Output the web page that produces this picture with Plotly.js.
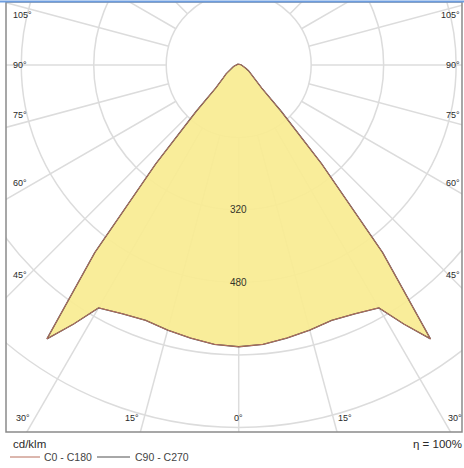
<!DOCTYPE html>
<html>
<head>
<meta charset="utf-8">
<script src="https://cdn.plot.ly/plotly-3.0.1.min.js"></script>
<style>
  html, body { margin: 0; padding: 0; background: #ffffff; }
  #chart { width: 464px; height: 468px; }
</style>
</head>
<body>
<div id="chart"></div>
<script>
// ---- data ----
// gamma angles (degrees from nadir) and luminous intensity in cd/klm
const gammaAngles = [0, 5, 10, 15, 20, 25, 30, 32.5, 35, 37.5, 40, 42.5, 45, 50, 55, 60, 65, 70, 75, 80, 85, 90, 105, 120, 135, 150, 165, 180];
const c0c180      = [622, 619, 612, 606, 600, 606, 619, 678, 738, 522, 285, 140, 72, 45, 34, 25, 18, 14, 11, 9, 7, 6, 4, 3, 2.5, 2, 2, 2];
const c90c270     = [622, 619, 612, 606, 600, 606, 619, 678, 738, 522, 285, 140, 72, 45, 34, 25, 18, 14, 11, 9, 7, 6, 4, 3, 2.5, 2, 2, 2];
const ringValues  = [160, 320, 480, 640, 800, 960];
const ringLabelValues = [320, 480];
const spokeAngles = [0, 15, 30, 45, 60, 75, 90, 105, 120, 135, 150, 165, 180];
const angleLabelValues = [0, 15, 30, 45, 60, 75, 90, 105];
const seriesNames = ['C0 - C180', 'C90 - C270'];
const seriesColors = ['#b86f5c', '#505050'];
const unitLabel = 'cd/klm';
const efficiencyLabel = 'η = 100%';

// ---- geometry / style ----
const W = 464, H = 468;
const M = {l: 6, r: 2, t: 2, b: 36};
const PW = W - M.l - M.r, PH = H - M.t - M.b;
const K = 0.453;            // pixels per cd/klm
const CX = 238.7, CY = 65;  // pole position in page pixels
const xRange = [-(CX - M.l) / K, (PW - (CX - M.l)) / K];
const yRange = [-(PH - (CY - M.t)) / K, (CY - M.t) / K];
const rad = d => d * Math.PI / 180;
const pxToX = px => (px - CX) / K;
const pxToY = py => (CY - py) / K;
const pxToPX = px => (px - M.l) / PW;          // page px -> paper x
const pxToPY = py => (M.t + PH - py) / PH;     // page px -> paper y
const FONT = 'Arial, "Liberation Sans", sans-serif';
const GRID = '#dcdcdc';
const TXT = '#2a2a2a';

// polar -> cartesian curve, closed over both halves of the plane
function curve(angles, vals) {
  const x = [], y = [];
  for (let i = 0; i < angles.length; i++) {
    x.push(vals[i] * Math.sin(rad(angles[i])));
    y.push(-vals[i] * Math.cos(rad(angles[i])));
  }
  for (let i = angles.length - 1; i >= 0; i--) {
    x.push(-vals[i] * Math.sin(rad(angles[i])));
    y.push(-vals[i] * Math.cos(rad(angles[i])));
  }
  return {x, y};
}

const cA = curve(gammaAngles, c0c180);
const cB = curve(gammaAngles, c90c270);

const traces = [
  {x: cA.x, y: cA.y, type: 'scatter', mode: 'lines', fill: 'toself',
   fillcolor: 'rgba(249,236,146,0.93)', line: {width: 0}, showlegend: false, hoverinfo: 'skip'},
  {x: cB.x, y: cB.y, type: 'scatter', mode: 'lines', name: seriesNames[1],
   line: {color: seriesColors[1], width: 1.3}, showlegend: false, hoverinfo: 'skip'},
  {x: cA.x, y: cA.y, type: 'scatter', mode: 'lines', name: seriesNames[0],
   line: {color: seriesColors[0], width: 1}, showlegend: false, hoverinfo: 'skip'}
];

const shapes = [];
ringValues.forEach(r => shapes.push({
  type: 'circle', xref: 'x', yref: 'y', x0: -r, x1: r, y0: -r, y1: r,
  line: {color: GRID, width: 1.5}, layer: 'below'
}));
const rIn = ringValues[0], rOut = 1400;
spokeAngles.forEach(a => {
  [1, -1].forEach(s => {
    if (s === -1 && (a === 0 || a === 180)) return;
    const sx = s * Math.sin(rad(a)), sy = -Math.cos(rad(a));
    shapes.push({type: 'line', xref: 'x', yref: 'y',
      x0: rIn * sx, y0: rIn * sy, x1: rOut * sx, y1: rOut * sy,
      line: {color: GRID, width: 1.5}, layer: 'below'});
  });
});
// frame
shapes.push({type: 'rect', xref: 'paper', yref: 'paper', x0: 0, x1: 1, y0: 0, y1: 1,
  line: {color: '#8a8a8a', width: 1.5}, layer: 'above'});
shapes.push({type: 'line', xref: 'paper', yref: 'paper', x0: -M.l / PW, x1: 1 + M.r / PW,
  y0: 1 + 0.5 / PH, y1: 1 + 0.5 / PH, line: {color: '#6d9de0', width: 2}, layer: 'above'});

const annotations = [];
// radial value labels on the nadir axis
ringLabelValues.forEach(v => annotations.push({
  x: 0, y: -v, xref: 'x', yref: 'y', text: String(v), showarrow: false,
  font: {family: FONT, size: 10, color: '#34342a'}, xanchor: 'center', yanchor: 'middle'
}));
// angle labels where spokes meet the frame
const insetL = 20, insetR = 457, insetB = 418;
angleLabelValues.forEach(a => {
  [-1, 1].forEach(s => {
    if (a === 0 && s === 1) return;
    const t = Math.tan(rad(a));
    const ySide = a === 90 ? CY : CY + (CX - insetL) / t; // y where spoke meets side inset
    const txt = a + '°';
    const f = {family: FONT, size: 9, color: TXT};
    if (a >= 45 && ySide < insetB) {
      let yy = ySide, ya = 'middle';
      if (a < 90) { yy = ySide - 1.5; ya = 'bottom'; }
      if (a > 90) { yy = ySide + 2; ya = 'top'; }
      annotations.push({xref: 'x', yref: 'y', showarrow: false, text: txt, font: f,
        x: s < 0 ? pxToX(11) : pxToX(462), xanchor: s < 0 ? 'left' : 'right',
        y: pxToY(yy), yanchor: ya});
    } else {
      const xb = CX + s * (insetB - CY) * t;
      let xx = xb, xa = 'center';
      if (a > 0) { xx = xb + s * 3; xa = s < 0 ? 'right' : 'left'; }
      annotations.push({xref: 'x', yref: 'y', showarrow: false, text: txt, font: f,
        x: pxToX(xx), xanchor: xa, y: pxToY(insetB), yanchor: 'middle'});
    }
  });
});
// footer: unit, efficiency, legend
annotations.push({xref: 'paper', yref: 'paper', x: pxToPX(11), xanchor: 'left',
  y: pxToPY(444), yanchor: 'middle', showarrow: false,
  text: unitLabel, font: {family: FONT, size: 11.5, color: TXT}});
annotations.push({xref: 'paper', yref: 'paper', x: pxToPX(464), xanchor: 'right',
  y: pxToPY(444), yanchor: 'middle', showarrow: false,
  text: efficiencyLabel, font: {family: FONT, size: 11.5, color: TXT}});
const legendItems = [{x0: 10, x1: 40, tx: 42}, {x0: 97, x1: 130, tx: 133}];
legendItems.forEach((it, i) => {
  shapes.push({type: 'line', xref: 'paper', yref: 'paper',
    x0: pxToPX(it.x0), x1: pxToPX(it.x1), y0: pxToPY(457), y1: pxToPY(457),
    line: {color: seriesColors[i], width: 1}});
  annotations.push({xref: 'paper', yref: 'paper', x: pxToPX(it.tx), xanchor: 'left',
    y: pxToPY(457), yanchor: 'middle', showarrow: false,
    text: seriesNames[i], font: {family: FONT, size: 10.5, color: '#444'}});
});

const layout = {
  width: W, height: H, margin: M,
  paper_bgcolor: '#ffffff', plot_bgcolor: '#ffffff',
  xaxis: {range: xRange, visible: false, fixedrange: true},
  yaxis: {range: yRange, visible: false, fixedrange: true},
  showlegend: false,
  shapes, annotations, hovermode: false
};

Plotly.newPlot('chart', traces, layout, {displayModeBar: false, staticPlot: true});
</script>
</body>
</html>
